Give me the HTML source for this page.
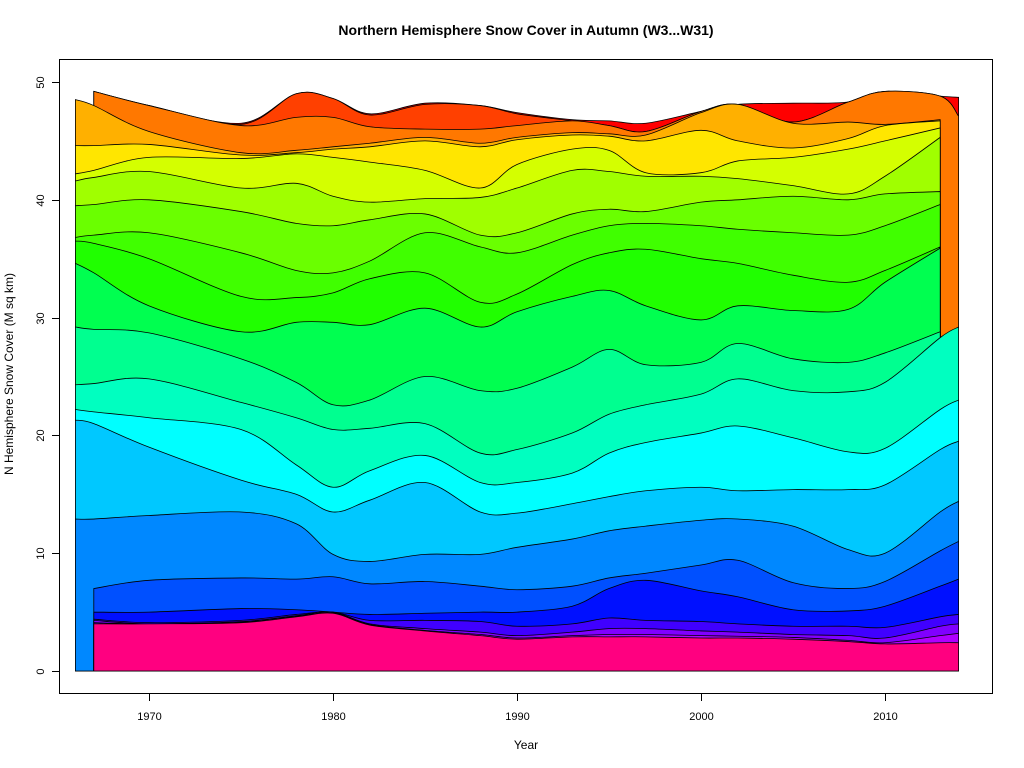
<!DOCTYPE html>
<html><head><meta charset="utf-8"><style>
html,body{margin:0;padding:0;background:#fff}
svg{display:block;font-family:"Liberation Sans",sans-serif}
</style></head><body>
<svg id="chart" width="1024" height="768">
<text x="526" y="35" text-anchor="middle" font-size="14" font-weight="bold">Northern Hemisphere Snow Cover in Autumn (W3...W31)</text>
<text x="526" y="749" text-anchor="middle" font-size="12">Year</text>
<text transform="translate(13,374) rotate(-90)" text-anchor="middle" font-size="12">N Hemisphere Snow Cover (M sq km)</text>
<defs><clipPath id="pc"><rect x="59" y="59" width="934" height="635"/></clipPath></defs>
<g id="layers" clip-path="url(#pc)"></g>
<g id="axes"></g>
<rect x="59.5" y="59.5" width="933" height="634" fill="none" stroke="#000" stroke-width="1"/>
</svg>
<script>
const years = [1966,1967,1970,1975,1978,1980,1982,1985,1988,1990,1993,1995,1997,2000,2002,2005,2008,2010,2013,2014];
const layerColors = ["#FF0080","#B000FF","#8000FF","#4000FF","#0010FF","#0050FF","#0088FF","#00C8FF","#00FFFF","#00FFC0","#00FF90","#00FF50","#20FF00","#40FF00","#6AFF00","#A0FF00","#D4FF00","#FFE600","#FFB000","#FF7800","#FF4000","#FF0000"];
const N = null;
// cumulative tops of each layer (M sq km)
const L0 =[N,4.0,4.0,4.1,4.6,4.9,3.9,3.4,3.0,2.7,2.9,2.9,2.9,2.8,2.8,2.7,2.5,2.3,2.4,2.4];
const L1 =[N,4.1,4.0,4.15,4.65,4.95,3.95,3.45,3.1,2.8,3.0,3.1,3.1,3.0,2.95,2.85,2.6,2.4,3.0,3.2];
const L2 =[N,4.3,4.0,4.2,4.7,5.0,4.0,3.6,3.3,3.0,3.3,3.6,3.6,3.4,3.3,3.1,3.0,2.8,3.8,4.0];
const L3 =[N,4.4,4.1,4.3,4.8,5.0,4.3,4.3,4.2,3.8,4.0,4.5,4.3,4.2,4.0,3.8,3.8,3.7,4.6,4.8];
const L4 =[N,5.0,5.0,5.3,5.2,5.0,4.8,4.9,5.0,5.0,5.5,7.0,7.7,6.8,6.3,5.2,5.1,5.5,7.2,7.8];
const L5 =[N,7.0,7.7,7.9,7.8,8.0,7.4,7.6,7.2,6.9,7.2,7.9,8.3,9.0,9.4,7.5,7.0,7.6,10.2,11.0];
const L6 =[12.9,12.9,13.2,13.5,12.5,9.9,9.3,9.9,9.9,10.5,11.2,11.9,12.3,12.8,12.9,12.3,10.3,10.0,13.5,14.4];
const L7 =[21.3,21.0,19.0,16.2,15.0,13.5,14.5,16.0,13.5,13.4,14.2,14.8,15.3,15.6,15.3,15.4,15.4,15.8,18.8,19.5];
const L8 =[22.2,22.0,21.5,20.5,17.5,15.6,17.0,18.3,16.0,16.0,16.8,18.5,19.4,20.2,20.8,19.8,18.6,18.9,22.2,23.0];
const L9 =[24.3,24.4,24.8,22.8,21.5,20.5,20.6,21.0,18.5,18.8,20.2,21.8,22.6,23.5,24.8,23.8,23.7,24.5,28.3,29.2];
const L10=[29.2,29.0,28.7,26.5,24.5,22.6,23.0,25.0,23.8,24.0,25.8,27.3,26.0,26.2,27.8,26.5,26.2,27.0,28.8,N];
const L11=[34.6,33.8,31.0,28.8,29.6,29.6,29.4,30.8,29.2,30.5,31.8,32.3,31.0,29.8,31.0,30.6,30.7,33.0,35.9,N];
const L12=[36.5,36.3,35.0,31.8,31.7,32.1,33.3,33.8,31.3,32.0,34.5,35.5,35.8,35.0,34.6,33.6,33.0,34.0,36.0,N];
const L13=[36.8,37.0,37.2,35.5,34.0,33.8,34.8,37.2,36.0,35.5,37.0,37.8,38.0,37.8,37.5,37.2,37.0,37.8,39.6,N];
const L14=[39.5,39.6,40.0,39.0,38.0,37.8,38.3,38.8,37.0,37.2,38.8,39.2,39.0,39.8,40.0,40.3,40.0,40.5,40.7,N];
const L15=[41.6,41.9,42.4,41.0,41.4,40.3,39.8,40.1,40.2,41.0,42.5,42.4,42.0,42.0,41.8,41.2,40.5,42.0,45.3,N];
const L16=[42.2,42.5,43.6,43.5,43.9,43.6,43.2,42.5,41.0,43.0,44.3,44.2,42.3,42.3,43.3,43.6,44.3,45.0,46.1,N];
const L17=[44.6,44.6,44.7,43.8,44.0,44.3,44.5,45.0,44.5,45.1,45.5,45.4,45.0,45.9,45.0,44.4,45.2,46.3,46.7,N];
const L18=[48.5,48.0,45.8,44.0,44.2,44.5,44.8,45.3,44.8,45.3,45.7,45.6,45.5,47.4,48.1,46.5,46.6,46.4,46.8,N];
const L19=[N,49.2,48.0,46.3,47.0,47.0,46.2,46.0,46.0,46.3,46.7,46.3,45.8,47.5,48.1,46.6,48.3,49.2,48.8,47.1];
const L20=[N,49.2,48.0,46.4,49.0,48.6,47.2,48.1,48.0,47.3,46.7,46.3,45.8,47.5,48.1,46.6,48.3,49.2,48.8,47.1];
const L21=[N,49.2,48.0,46.5,49.0,48.6,47.3,48.2,48.0,47.4,46.8,46.7,46.5,47.5,48.1,48.2,48.3,49.2,48.8,48.7];
const layerTops = [L0,L1,L2,L3,L4,L5,L6,L7,L8,L9,L10,L11,L12,L13,L14,L15,L16,L17,L18,L19,L20,L21];
const xTicks = [1970,1980,1990,2000,2010];
const yTicks = [0,10,20,30,40,50];

const xS = y => 149 + (y - 1970) * 18.4;
const yS = v => 671 - v * 11.78;
const NS = "http://www.w3.org/2000/svg";
const gL = document.getElementById('layers');
const gA = document.getElementById('axes');

function smoothPath(pts){
  let d = `M${pts[0][0]},${pts[0][1]}`;
  for(let i=0;i<pts.length-1;i++){
    const p0=pts[Math.max(0,i-1)],p1=pts[i],p2=pts[i+1],p3=pts[Math.min(pts.length-1,i+2)];
    const c1=[p1[0]+(p2[0]-p0[0])/6,p1[1]+(p2[1]-p0[1])/6];
    const c2=[p2[0]-(p3[0]-p1[0])/6,p2[1]-(p3[1]-p1[1])/6];
    d+=` C${c1[0]},${c1[1]} ${c2[0]},${c2[1]} ${p2[0]},${p2[1]}`;
  }
  return d;
}
for(let k=layerTops.length-1;k>=0;k--){
  const arr = layerTops[k];
  const pts = [];
  years.forEach((yr,i)=>{ if(arr[i]!==null) pts.push([xS(yr), yS(arr[i])]); });
  if(pts.length<2) continue;
  const x0=pts[0][0], x1=pts[pts.length-1][0];
  let d = `M${x0},${yS(0)} L${pts[0][0]},${pts[0][1]}` + smoothPath(pts).replace(/^M[^C]*/,' ') + ` L${x1},${yS(0)} Z`;
  const p=document.createElementNS(NS,'path');
  p.setAttribute('d',d);
  p.setAttribute('fill',layerColors[k]);
  p.setAttribute('stroke','#000');
  p.setAttribute('stroke-width','0.8');
  
  
  gL.appendChild(p);
}
function line(x1,y1,x2,y2){
  const l=document.createElementNS(NS,'line');
  l.setAttribute('x1',x1);l.setAttribute('y1',y1);l.setAttribute('x2',x2);l.setAttribute('y2',y2);
  l.setAttribute('stroke','#000');
  
  
  gA.appendChild(l);
}
xTicks.forEach(t=>{
  const x=Math.round(xS(t))+0.5;
  line(x,694,x,701);
  const tx=document.createElementNS(NS,'text');
  tx.setAttribute('x',x);tx.setAttribute('y',720);tx.setAttribute('text-anchor','middle');tx.setAttribute('font-size','11');
  tx.textContent=t;
  
  
  gA.appendChild(tx);
});
yTicks.forEach(t=>{
  const y=Math.round(yS(t))+0.5;
  line(52,y,59,y);
  const tx=document.createElementNS(NS,'text');
  tx.setAttribute('transform',`translate(44,${y}) rotate(-90)`);
  tx.setAttribute('text-anchor','middle');tx.setAttribute('font-size','11');
  tx.textContent=t;
  
  
  gA.appendChild(tx);
});
</script>
</body></html>
